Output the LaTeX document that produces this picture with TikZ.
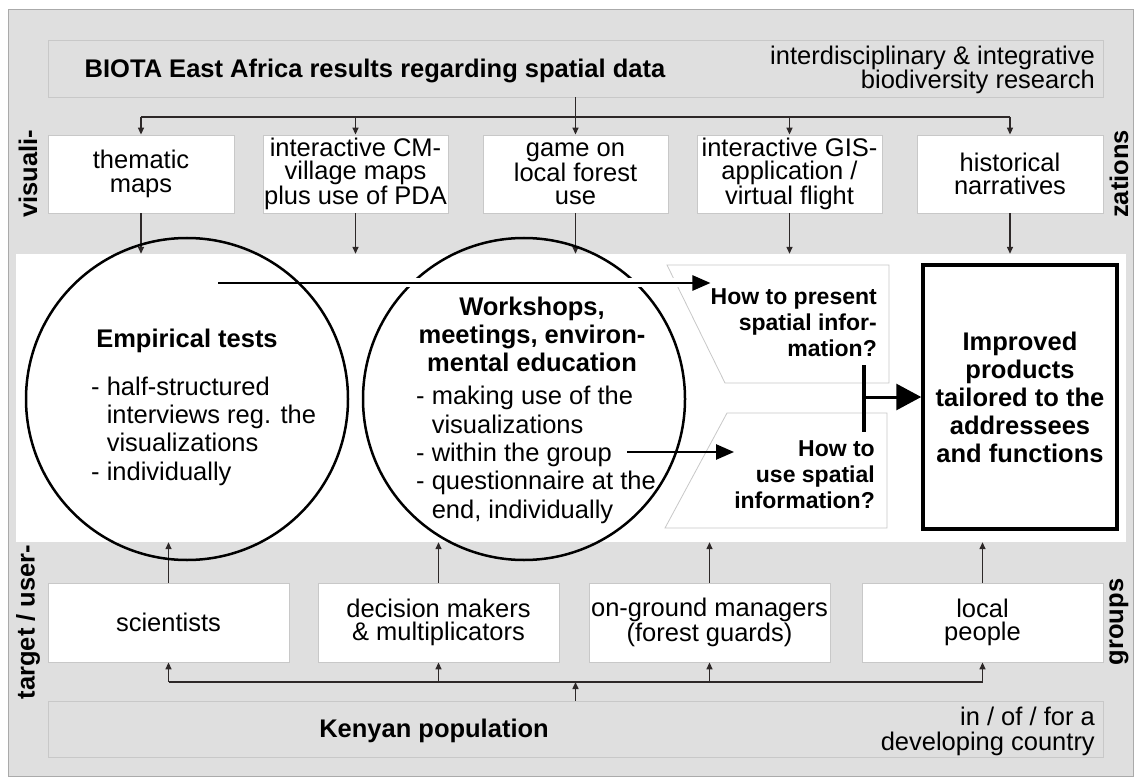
\documentclass[tikz,border=0pt]{standalone}
\usepackage{fontspec}
\setmainfont{Liberation Sans}
\usepackage{tikz}
\usetikzlibrary{positioning,arrows.meta}
\tikzset{every node/.style={font=\fontsize{25.5}{28.3}\selectfont, inner sep=0pt}}

\definecolor{panel}{RGB}{223,223,223}
\definecolor{panelline}{RGB}{170,170,170}
\definecolor{boxline}{RGB}{200,200,200}
\definecolor{wire}{RGB}{45,40,40}

\begin{document}
\begin{tikzpicture}[
    x=1pt, y=-1pt,
    >={Triangle[length=7pt,width=6pt]},
    strip/.style={rectangle, draw=boxline, fill=panel, line width=0.8pt, minimum width=1055, minimum height=57},
    tile/.style={rectangle, draw=boxline, fill=white, line width=0.8pt, align=center, minimum height=78, font=\fontsize{25.5}{23.5}\selectfont},
    side/.style={rotate=90, font=\bfseries\fontsize{25.5}{28}\selectfont},
    heading/.style={font=\bfseries\fontsize{25.5}{28}\selectfont},
    stage/.style={circle, draw, line width=2.5pt, minimum size=322},
    query/.style={draw=boxline, fill=white, line width=0.8pt},
    asks/.style={align=right, anchor=base east, font=\bfseries\fontsize{23}{26}\selectfont},
    note/.style={align=right, anchor=base east, font=\fontsize{25.5}{24.5}\selectfont},
    link/.style={draw=wire, line width=1.4pt},
    flow/.style={line width=2.5pt, -{Triangle[length=18pt,width=15pt]}},
    halo/.style={draw=white, line width=9pt}
]

\useasboundingbox (0,0) rectangle (1137,783);
\filldraw[fill=panel, draw=panelline, line width=1pt] (8,10) rectangle (1133,776);

\node (band) [rectangle, fill=white, minimum width=1110, minimum height=288] at (571,398) {};

% spatial data results and the visualizations
\node (results) [strip] at (575.5,68.5) {};
\node (resultstitle) [heading, anchor=base] at (375,78) {BIOTA East Africa results regarding spatial data};
\node (resultsnote) [note] at (1095,89) {interdisciplinary \& integrative\\biodiversity research};

\node (vis1) [tile, minimum width=186] at (141,174) {thematic\\maps};
\node (vis2) [tile, minimum width=185] at (355.5,174) {interactive CM-\\village maps\\plus use of PDA};
\node (vis3) [tile, minimum width=185] at (575.5,174) {game on\\local forest\\use};
\node (vis4) [tile, minimum width=185] at (789.5,174) {interactive GIS-\\application /\\virtual flight};
\node (vis5) [tile, minimum width=186] at (1010,174) {historical\\narratives};

\node (visleft) [side] at (28,174) {visuali-};
\node (visright) [side] at (1119,174) {zations};

\coordinate (visbus) at (575.5,117);
\draw[link] (results.south) -- (results.south |- visbus);
\draw[link] (vis1.north |- visbus) -- (vis5.north |- visbus);
\foreach \n in {1,...,5} {
    \draw[link, ->] (vis\n.north |- visbus) -- (vis\n.north);
    \draw[link, ->] (vis\n.south) -- (vis\n.south |- band.north);
}

% target groups and the population
\node (grp1) [tile, minimum width=241, minimum height=79] at (168.5,622.5) {scientists};
\node (grp2) [tile, minimum width=241, minimum height=79] at (438.5,622.5) {decision makers\\\& multiplicators};
\node (grp3) [tile, minimum width=241, minimum height=79] at (709.5,622.5) {on-ground managers\\(forest guards)};
\node (grp4) [tile, minimum width=241, minimum height=79] at (982.5,622.5) {local\\people};

\node (grpleft) [side] at (28,622) {target / user-};
\node (grpright) [side] at (1119,622) {groups};

\node (kenya) [strip, minimum height=56] at (575.5,729) {};
\node (kenyatitle) [heading, anchor=base] at (434,737) {Kenyan population};
\node (kenyanote) [note] at (1095,750) {in / of / for a\\developing country};

\coordinate (grpbus) at (575.5,682);
\draw[link, ->] (kenya.north) -- (kenya.north |- grpbus);
\draw[link] (grp1.south |- grpbus) -- (grp4.south |- grpbus);
\foreach \n in {1,...,4} {
    \draw[link, ->] (grp\n.south |- grpbus) -- (grp\n.south);
    \draw[link, ->] (grp\n.north) -- (grp\n.north |- band.south);
}

% workshops circle and the two questions
\node (workshops) [stage] at (524,399) {};
\node (workshopstitle) [heading, align=center, anchor=base] at (532,371) {Workshops,\\meetings, environ-\\mental education};
\node (workshopslist) [align=left, anchor=base west] at (416,518) {- making use of the\\\phantom{- }visualizations\\- within the group\\- questionnaire at the\\\phantom{- }end, individually};

\filldraw[query] (667,265) -- (889,265) -- (889,383) -- (725,383) -- cycle;
\filldraw[query] (727,413) -- (887,413) -- (887,528) -- (665,528) -- cycle;
\node (presenttext) [asks] at (877,356) {How to present\\spatial infor-\\mation?};
\node (usetext) [asks] at (875,508) {How to\\use spatial\\information?};

% empirical tests circle
\node (empirical) [stage] at (187,399) {};
\node (empiricaltitle) [heading, anchor=base] at (187,347) {Empirical tests};
\node (empiricallist) [align=left, anchor=base west] at (91,480) {- half-structured\\\phantom{- }interviews reg. the\\\phantom{- }visualizations\\- individually};

\coordinate (presentfrom) at (218,283);
\coordinate (usefrom) at (627,452);
\draw[halo] (workshops.west |- presentfrom) -- (workshops.east |- presentfrom);
\draw[flow] (presentfrom) -- (presentfrom -| presenttext.west);
\draw[flow] (usefrom) -- (usefrom -| usetext.west);

% improved products
\node (improved) [rectangle, draw, line width=3.5pt, minimum width=194, minimum height=264, heading, align=center] at (1020,397) {Improved\\products\\tailored to the\\addressees\\and functions};
\coordinate (merge) at (864,397);
\draw[line width=4pt] ([yshift=32pt]merge) -- ([yshift=-35pt]merge);
\draw[line width=3pt, -{Triangle[length=25pt,width=26pt]}] (merge) -- (improved.west);

\end{tikzpicture}
\end{document}
